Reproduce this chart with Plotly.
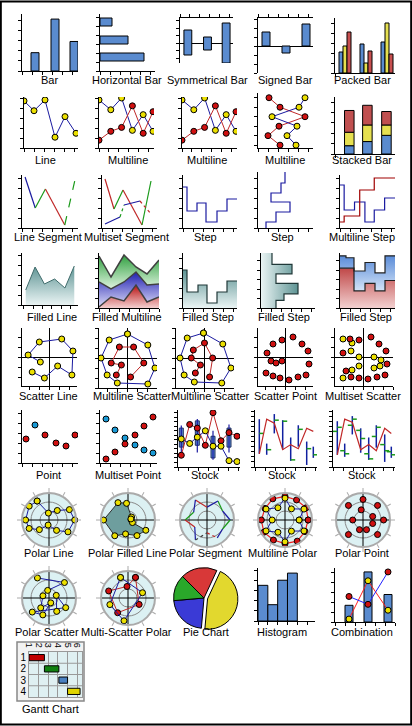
import plotly.graph_objects as go

W, H = 412, 726
FONT = "Liberation Sans"
BLUE_BAR = "#5a8bcf"
YEL = "#ece000"
RED = "#d01010"
LBLUE = "#1a1aa0"
LRED = "#c02828"
GREEN = "#1a9a1a"
TEAL = [[0, "#eaf4f4"], [1, "#5e9494"]]

# ---------------- data ----------------
bar_x = [1.3, 3.3, 5.2]
bar_y = [1.8, 5.1, 2.9]
hbar_y = [4.9, 3.1, 1.4]
hbar_len = [1.2, 2.8, 4.4]
sym_x = [0.8, 2.8, 4.7]
sym_lo = [-1.2, -0.7, -2.0]
sym_hi = [1.3, 0.6, 2.0]
signed_x = [0.8, 2.8, 4.8]
signed_y = [1.4, -0.7, 2.2]
packed_x = [0.6, 2.7, 4.8]
packed_blue = [2.1, 2.9, 3.1]
packed_yel = [2.7, 1.0, 5.0]
packed_red = [4.1, 2.2, 1.9]

line_x = [0, 1.0, 2.1, 3.1, 4.1, 5.2]
line_y = [4.8, 3.8, 4.9, 1.1, 3.2, 1.5]
ml_x = [0, 1.2, 2.3, 3.4, 4.5, 5.5]
ml_yel = [4.9, 3.9, 5.1, 1.8, 3.4, 1.7]
ml_red = [0.8, 1.7, 2.1, 4.3, 1.5, 3.7]
mv_y = [5, 4, 3, 2, 1, 0]
mv_red = [1.1, 2.2, 4.7, 2.1, 1.0, 2.2]
mv_yel = [4.7, 4.1, 1.4, 3.9, 2.9, 3.8]
stk_x = [1.5, 3.4, 5.4]
stk_blue = [0.8, 1.2, 1.8]
stk_yel = [1.3, 1.6, 1.0]
stk_red = [2.1, 1.9, 1.3]

seg_x = [0.3, 1.3, 2.3, 4.2, 5.2]
seg_y = [5.1, 2.0, 3.9, 0.3, 4.8]
seg_col = [LBLUE, GREEN, LRED, GREEN]
seg_dash = ["solid", "solid", "solid", "dash"]
mseg_ax = [0.3, 1.2, 2.1, 4.0, 4.9]
mseg_ay = [4.9, 1.9, 3.8, 0.3, 4.7]
mseg_acol = [LRED, GREEN, LRED, GREEN]
mseg_adash = ["solid", "solid", "solid", "solid"]
mseg_bx = [0.3, 1.8, 2.2, 3.8, 4.9]
mseg_by = [0.4, 1.1, 2.3, 2.7, 1.4]
mseg_bcol = [LBLUE, GREEN, LBLUE, LRED]
mseg_bdash = ["solid", "dot", "solid", "dot"]
step_x = [0, 0.4, 1.4, 2.3, 3.4, 4.4, 5.4]
step_y = [4.1, 1.7, 2.5, 0.6, 1.7, 2.9, 2.9]
vstep_x = [0.8, 1.8, 3.2, 1.3, 2.3, 2.7, 2.7]
vstep_y = [0, 0.6, 1.6, 2.6, 3.5, 4.5, 5.6]
mstep_bx = [0, 0.4, 1.4, 2.4, 3.3, 4.3, 5.3]
mstep_by = [4.3, 1.8, 2.6, 0.6, 1.8, 3.0, 3.0]
mstep_rx = [0, 0.4, 1.9, 3.3, 5.3]
mstep_ry = [0.6, 1.2, 3.8, 5.0, 5.0]

fl_x = [0.4, 1.4, 2.4, 3.5, 4.6, 5.6]
fl_y = [1.5, 3.8, 2.1, 2.6, 1.7, 3.9]
fm_x = [0, 1.2, 2.5, 3.7, 4.8, 6.0]
fm_red = [0.1, 1.1, 0.7, 2.3, 0.6, 1.1]
fm_blue = [2.6, 1.9, 2.6, 3.6, 2.3, 2.4]
fm_green = [5.2, 3.1, 5.3, 4.1, 3.4, 4.8]
fs_x = [0, 0.4, 1.5, 2.4, 3.4, 4.4, 5.4]
fs_y = [3.8, 1.6, 2.3, 0.5, 1.6, 2.7, 2.7]
fv_x = [1.1, 3.1, 1.5, 3.7, 2.3, 1.5, 1.5]
fv_y = [5.8, 4.6, 3.6, 2.6, 1.5, 0.8, 0]
fs2_rx = [0, 1.4, 2.5, 3.5, 4.5, 5.5]
fs2_ry = [4.2, 1.8, 2.6, 1.8, 2.9, 2.9]
fs2_bx = [0, 0.6, 1.4, 2.5, 3.5, 4.5, 5.5]
fs2_by = [5.5, 5.3, 3.9, 4.8, 3.7, 5.5, 5.5]

sl_x = [-0.9, -2.1, -1.0, 1.2, 2.3, 2.2, 0.8, -0.5, -1.7]
sl_y = [-0.5, 0.2, 1.5, 1.8, 0.6, -1.8, -0.9, -2.1, -1.5]
msa_bx = [0, 2.0, 2.7, 2.0, -1.0, -2.0, -2.6, -1.8, 0]
msa_by = [2.4, 1.3, -1.0, -2.6, -2.5, -1.7, 0, 1.8, 2.4]
msa_rx = [0.3, 1.6, 0.6, -0.8, -1.6, -0.6, -1.1]
msa_ry = [-1.9, -0.5, 1.1, 1.1, -0.5, -0.7, -1.7]
msb_bx = [-0.1, 1.8, 2.6, 1.7, -1.0, -2.0, -2.4, -1.7, -0.1]
msb_by = [2.5, 1.4, -1.0, -2.5, -2.4, -1.7, 0, 2.0, 2.5]
msb_rx = [0.5, 0.8, 0, -1.1, -1.3, -0.4, -0.9]
msb_ry = [-1.9, 0, 1.5, 0.8, 0, -0.7, -1.5]
sp_x = [-0.3, 0.8, 1.7, 2.3, 2.4, 2.1, 1.3, 0.4, -0.5, -1.2, -1.9, -1.8, -1.2, -1.4, -0.9, -0.3]
sp_y = [1.7, 2.0, 1.3, 0.6, -0.7, -1.8, -2.0, -2.3, -2.1, -1.9, -1.6, 0.4, 1.3, -0.4, -0.6, -0.4]
ms_yx = [-2.0, -1.1, -1.2, -0.4, 1.1, 1.8, 1.7, 1.1, -0.4, -1.1, -2.0]
ms_yy = [1.8, 1.4, 0.6, 0, 0, -0.3, -0.9, -1.1, -0.9, -1.3, -2.1]
ms_rx = [-1.3, -0.4, 0.8, 1.6, 2.3, 2.4, 2.2, 1.4, 0.5, -0.4, -1.2, -1.7, -2.0]
ms_ry = [1.8, 1.7, 2.0, 1.3, 0.6, -0.7, -1.8, -2.0, -2.2, -2.1, -2.0, -1.4, 0.4]

pt_x = [0.4, 1.3, 2.3, 3.4, 4.4, 5.3]
pt_y = [2.4, 3.8, 2.8, 2.0, 1.7, 2.8]
pt_col = [RED, "#1a9ad6", RED, RED, RED, RED]
mp_x = [0.6, 1.5, 2.5, 3.5, 4.4, 5.3]
mp_blue = [4.4, 3.3, 2.5, 1.8, 1.3, 1.0]
mp_red = [0.4, 1.1, 1.9, 2.8, 3.7, 4.6]
sk_x = [0.33, 1.17, 1.93, 2.73, 3.5, 4.3, 5.1, 5.9]
sk_red = [1.3, 4.7, 4.3, 2.4, 6.0, 2.9, 3.8, 3.4]
sk_blue = [3.1, 2.6, 3.3, 4.0, 2.3, 2.3, 0.7, 0.6]
box_x = [0.33, 1.93, 3.5, 5.1]
box_lo = [2.2, 2.4, 1.0, 2.2]
box_hi = [4.3, 5.1, 3.4, 4.3]
box_min = [1.3, 1.6, 0.8, 1.6]
box_max = [4.6, 5.3, 4.0, 4.7]
oh_x = [0.43, 1.17, 1.93, 2.77, 3.57, 4.33, 5.17, 5.83]
oh_hi = [4.7, 2.3, 5.2, 4.6, 2.9, 4.1, 2.5, 2.0]
oh_lo = [1.3, 1.2, 3.3, 1.7, 0.6, 2.0, 0.2, 0.9]
oh_close = [3.3, 1.7, 4.6, 4.5, 0.7, 3.7, 1.8, 1.2]
oh_line = [1.3, 4.7, 4.3, 1.7, 2.2, 1.8, 3.8, 3.5]
oh2_hi = [4.5, 2.3, 5.0, 3.8, 2.9, 4.1, 3.2, 2.0]
oh2_lo = [1.2, 1.0, 3.2, 1.4, 0.7, 1.9, 0.5, 0.9]
oh2_open = [3.5, 1.6, 4.1, 3.6, 1.3, 3.0, 2.2, 1.5]
oh2_close = [3.9, 1.3, 4.7, 2.8, 0.8, 3.9, 1.6, 1.2]
oh2_line = [1.2, 4.7, 4.4, 1.7, 2.2, 1.6, 3.8, 3.3]

ang12 = [0, 30, 60, 90, 120, 150, 180, 210, 240, 270, 300, 330, 360]
pl_r = [0.87, 0.94, 0.91, 0.84, 0.53, 0.2, 0.5, 0.87, 1.0, 0.89, 0.49, 0.27, 0.87]
pl_t = [122, 145, 180, 203, 225, 260, 306, 328, 360, 387, 409, 455, 482]
pf_r = [0.12, 0.18, 0.65, 0.78, 0.95, 0.8, 0.55, 0.7, 0.8, 0.2, 0.12]
pf_t = [5, 40, 95, 120, 180, 230, 260, 300, 330, 330, 20]
ps_r = [0.9, 0.7, 0.85, 0.5, 0.9, 0.6, 0.85, 0.55, 0.9, 0.5, 0.8, 0.7, 0.9]
mpol_red = [0.9, 0.95, 0.9, 0.92, 0.95, 0.9, 0.92, 0.95, 0.9, 0.92, 0.95, 0.9, 0.9]
mpol_blue = [0.55, 0.85, 0.5, 0.85, 0.55, 0.85, 0.5, 0.85, 0.55, 0.85, 0.5, 0.85, 0.55]
pp_r = [0.8, 0.4, 0.8, 0.4, 0.8, 0.4, 0.8, 0.4, 0.8, 0.4, 0.8, 0.4]
pp_t = [0, 20, 45, 100, 90, 180, 135, 250, 225, 290, 315, 340]
psc_r = [0.9, 0.85, 0.3, 0.25, 0.5, 0.2, 0.7, 0.85, 0.75, 0.3, 0.6]
psc_t = [120, 45, 100, 160, 230, 290, 250, 220, 330, 20, 300]
msp_r1 = [0.85, 0.45, 0.8, 0.7, 0.5, 0.85]
msp_t1 = [70, 95, 160, 235, 330, 70]
msp_r2 = [0.85, 0.6, 0.9, 0.75, 0.85]
msp_t2 = [110, 20, 260, 200, 110]

pie_vals = [70, 160, 80, 50]
pie_cols = ["#d83838", "#e2d82e", "#3a3ad6", "#2aa82a"]
pie_pull = [0, 0.12, 0, 0]
hist_x = [0.5, 1.5, 2.5, 3.5]
hist_y = [3.5, 1.6, 4.0, 4.7]
comb_x = [1.4, 3.3, 5.3]
comb_bar = [1.7, 5.1, 2.8]
comb_yel = [0.3, 4.2, 1.2]
comb_red = [2.6, 1.8, 5.1]
gantt_task = [1, 2, 3, 4]
gantt_start = [1.0, 2.6, 4.1, 5.0]
gantt_end = [2.6, 4.1, 5.0, 6.3]
gantt_cols = ["#c00000", "#108010", "#4a80c0", "#e0d400"]

titles = [
    ["Bar", "Horizontal Bar", "Symmetrical Bar", "Signed Bar", "Packed Bar"],
    ["Line", "Multiline", "Multiline", "Multiline", "Stacked Bar"],
    ["Line Segment", "Multiset Segment", "Step", "Step", "Multiline Step"],
    ["Filled Line", "Filled Multiline", "Filled Step", "Filled Step", "Filled Step"],
    ["Scatter Line", "Multiline Scatter", "Multiline Scatter", "Scatter Point", "Multiset Scatter"],
    ["Point", "Multiset Point", "Stock", "Stock", "Stock"],
    ["Polar Line", "Polar Filled Line", "Polar Segment", "Multiline Polar", "Polar Point"],
    ["Polar Scatter", "Multi-Scatter Polar", "Pie Chart", "Histogram", "Combination"],
]
title_cx = [[49, 127, 207, 285, 362], [45, 128, 207, 285, 362], [48, 127, 205, 282, 362],
            [52, 127, 208, 284, 366], [48, 132, 210, 285, 363], [48, 128, 205, 282, 362],
            [49, 128, 205, 282, 362], [47, 127, 206, 282, 362]]
title_y = [80, 160, 237, 317, 396, 475, 553, 632]

# ---------------- helpers ----------------
fig = go.Figure()
layout = {}
cnt = [0, 0]
AX = dict(showline=True, linecolor="black", linewidth=1, ticks="outside", ticklen=3,
          tickcolor="black", showticklabels=False, showgrid=False, zeroline=False,
          fixedrange=True, tick0=0)


def cart(x0, y0, x1, y1, xr, yr, xd=1, yd=1, xo=None, yo=None):
    cnt[0] += 1
    s = "" if cnt[0] == 1 else str(cnt[0])
    xa = dict(AX, domain=[x0 / W, x1 / W], range=xr, anchor="y" + s, dtick=xd)
    ya = dict(AX, domain=[1 - y1 / H, 1 - y0 / H], range=yr, anchor="x" + s, dtick=yd)
    xa.update(xo or {})
    ya.update(yo or {})
    layout["xaxis" + s] = xa
    layout["yaxis" + s] = ya
    return dict(xaxis="x" + s, yaxis="y" + s)


def polar(cx, cy, r=27):
    cnt[1] += 1
    name = "polar" if cnt[1] == 1 else "polar%d" % cnt[1]
    layout[name] = dict(
        domain=dict(x=[(cx - r) / W, (cx + r) / W], y=[1 - (cy + r) / H, 1 - (cy - r) / H]),
        bgcolor="#dcf1f3",
        angularaxis=dict(showticklabels=False, ticks="outside", ticklen=4, tickcolor="#aaa",
                         tickwidth=1, dtick=30, showgrid=False, linecolor="#aaa", linewidth=2),
        radialaxis=dict(range=[0, 1.05], showticklabels=False, ticks="", showline=False,
                        gridcolor="#888", tickvals=[0.35, 0.7]))
    sp = dict(subplot=name)
    fig.add_trace(go.Scatterpolar(r=[1.05, 0, 1.05], theta=[0, 0, 180], mode="lines",
                                  line=dict(color="black", width=1), **sp))
    fig.add_trace(go.Scatterpolar(r=[1.05, 0, 1.05], theta=[90, 90, 270], mode="lines",
                                  line=dict(color="black", width=1), **sp))
    return sp


def mk(c):
    return dict(color=c, size=6, line=dict(color="black", width=1))


BL = dict(color="black", width=1)

# ---------------- row 1 ----------------
a = cart(22, 14, 78, 71, [0, 5.6], [0, 5.6])
fig.add_trace(go.Bar(x=bar_x, y=bar_y, width=0.8, marker=dict(color=BLUE_BAR, line=BL), **a))
a = cart(100, 14, 155, 71, [0, 5.5], [0, 5.7], xo=dict(dtick=1), yo=dict(dtick=0.9))
fig.add_trace(go.Bar(y=hbar_y, x=hbar_len, orientation="h", width=0.8,
                     marker=dict(color=BLUE_BAR, line=BL), **a))
a = cart(180, 18, 233, 63, [0, 5.4], [-2.0, 2.5], yd=0.75,
         xo=dict(side="top"), yo=dict(zeroline=True, zerolinecolor="black", zerolinewidth=1))
fig.add_trace(go.Bar(x=sym_x, y=[h - l for h, l in zip(sym_hi, sym_lo)], base=sym_lo, width=0.8,
                     marker=dict(color=BLUE_BAR, line=BL), **a))
a = cart(258, 18, 313, 73, [0, 5.5], [-2.7, 2.8], yd=0.9,
         xo=dict(side="top"), yo=dict(zeroline=True, zerolinecolor="black", zerolinewidth=1))
fig.add_trace(go.Bar(x=signed_x, y=signed_y, width=0.8, marker=dict(color=BLUE_BAR, line=BL), **a))
a = cart(335, 18, 395, 73, [0, 6], [0, 5.5], xd=10)
for dx, vals, col in [(0, packed_blue, BLUE_BAR), (0.4, packed_yel, "#e6e050"), (0.8, packed_red, "#c85050")]:
    fig.add_trace(go.Bar(x=[v + dx for v in packed_x], y=vals, width=0.4,
                         marker=dict(color=col, line=BL), **a))

# ---------------- row 2 ----------------
a = cart(24, 97, 78, 148, [0, 5.4], [0, 5.2])
fig.add_trace(go.Scatter(x=line_x, y=line_y, mode="lines+markers", line=dict(color=LBLUE, width=1),
                         marker=mk(YEL), **a))
for x0 in (99, 182):
    a = cart(x0, 97, x0 + 55, 148, [0, 5.6], [0, 5.2])
    fig.add_trace(go.Scatter(x=ml_x, y=ml_yel, mode="lines+markers", line=dict(color=LBLUE, width=1),
                             marker=mk(YEL), **a))
    fig.add_trace(go.Scatter(x=ml_x, y=ml_red, mode="lines+markers", line=dict(color=LRED, width=1),
                             marker=mk(RED), **a))
a = cart(258, 93, 313, 148, [0, 5.5], [-0.3, 5.5])
fig.add_trace(go.Scatter(x=mv_red, y=mv_y, mode="lines+markers", line=dict(color=LRED, width=1),
                         marker=mk(RED), **a))
fig.add_trace(go.Scatter(x=mv_yel, y=mv_y, mode="lines+markers", line=dict(color=LBLUE, width=1),
                         marker=mk(YEL), **a))
a = cart(335, 97, 395, 154, [0, 6.3], [0, 5.5], xd=10)
base = [0, 0, 0]
for vals, col in [(stk_blue, BLUE_BAR), (stk_yel, "#e6e050"), (stk_red, "#c05050")]:
    fig.add_trace(go.Bar(x=stk_x, y=vals, base=list(base), width=1.0,
                         marker=dict(color=col, line=BL), **a))
    base = [b + v for b, v in zip(base, vals)]

# ---------------- row 3 ----------------
a = cart(22, 175, 78, 228, [0, 5.5], [0, 5.3])
for i in range(4):
    fig.add_trace(go.Scatter(x=seg_x[i:i + 2], y=seg_y[i:i + 2], mode="lines",
                             line=dict(color=seg_col[i], width=1.2, dash=seg_dash[i]), **a))
a = cart(102, 175, 157, 228, [0, 5.5], [0, 5.3])
for i in range(4):
    fig.add_trace(go.Scatter(x=mseg_ax[i:i + 2], y=mseg_ay[i:i + 2], mode="lines",
                             line=dict(color=mseg_acol[i], width=1.2, dash=mseg_adash[i]), **a))
    fig.add_trace(go.Scatter(x=mseg_bx[i:i + 2], y=mseg_by[i:i + 2], mode="lines",
                             line=dict(color=mseg_bcol[i], width=1.2, dash=mseg_bdash[i]), **a))
a = cart(183, 175, 237, 228, [0, 5.4], [0, 5.3])
fig.add_trace(go.Scatter(x=step_x, y=step_y, mode="lines", line=dict(color=LBLUE, width=1.2, shape="hv"), **a))
a = cart(258, 172, 313, 228, [0, 5.5], [0, 5.6])
fig.add_trace(go.Scatter(x=vstep_x, y=vstep_y, mode="lines", line=dict(color=LBLUE, width=1.2, shape="vh"), **a))
a = cart(340, 175, 395, 228, [0, 5.3], [0, 5.3])
fig.add_trace(go.Scatter(x=mstep_bx, y=mstep_by, mode="lines", line=dict(color=LBLUE, width=1.2, shape="hv"), **a))
fig.add_trace(go.Scatter(x=mstep_rx, y=mstep_ry, mode="lines", line=dict(color="#a00000", width=1.2, shape="hv"), **a))

# ---------------- row 4 ----------------
a = cart(22, 253, 78, 305, [0, 6], [0, 5.2], xo=dict(tick0=0.2))
fig.add_trace(go.Scatter(x=fl_x, y=fl_y, mode="lines", fill="tozeroy", line=dict(color="#406c6c", width=1),
                         fillgradient=dict(type="vertical", colorscale=TEAL), **a))
a = cart(99, 253, 159, 308, [0, 6], [0, 5.5])
for vals, cs, lc, fl in [(fm_red, [[0, "#f4d0d0"], [1, "#b81010"]], "#404040", "tozeroy"),
                         (fm_blue, [[0, "#dcdcf8"], [1, "#2020b0"]], "#404040", "tonexty"),
                         (fm_green, [[0, "#e0f4e0"], [1, "#30a040"]], "#404040", "tonexty")]:
    fig.add_trace(go.Scatter(x=fm_x, y=vals, mode="lines", fill=fl, line=dict(color=lc, width=1.5),
                             fillgradient=dict(type="vertical", colorscale=cs), **a))
a = cart(183, 253, 237, 308, [0, 5.4], [0, 5.5])
fig.add_trace(go.Scatter(x=fs_x, y=fs_y, mode="lines", fill="tozeroy",
                         line=dict(color="#203838", width=1.2, shape="hv"),
                         fillgradient=dict(type="vertical", colorscale=TEAL), **a))
a = cart(261, 253, 315, 308, [0, 5.4], [0, 5.8])
fig.add_trace(go.Scatter(x=fv_x, y=fv_y, mode="lines", fill="tozerox",
                         line=dict(color="#203838", width=1.2, shape="vh"),
                         fillgradient=dict(type="horizontal", colorscale=TEAL), **a))
a = cart(340, 253, 395, 308, [0, 5.5], [0, 5.8])
fig.add_trace(go.Scatter(x=fs2_rx, y=fs2_ry, mode="lines", fill="tozeroy",
                         line=dict(color="#202020", width=1.2, shape="hv"),
                         fillgradient=dict(type="vertical", colorscale=[[0, "#f2d0d0"], [1, "#c04848"]]), **a))
fig.add_trace(go.Scatter(x=fs2_bx, y=fs2_by, mode="lines", fill="tonexty",
                         line=dict(color="#202020", width=1.2, shape="hv"),
                         fillgradient=dict(type="vertical", colorscale=[[0, "#d4e4f8"], [1, "#5a8cd8"]]), **a))

# ---------------- row 5 ----------------
CROSS = dict(zeroline=True, zerolinecolor="black", zerolinewidth=1)
a = cart(22, 328, 77, 386, [-2.7, 2.7], [-2.9, 2.9], xo=CROSS, yo=CROSS)
fig.add_trace(go.Scatter(x=sl_x, y=sl_y, mode="lines+markers", line=dict(color=LBLUE, width=1),
                         marker=mk(YEL), **a))
for x0, bx, by, rx, ry in [(99, msa_bx, msa_by, msa_rx, msa_ry), (176, msb_bx, msb_by, msb_rx, msb_ry)]:
    a = cart(x0, 328, x0 + 58, 388, [-2.8, 2.9], [-3.0, 3.0], xo=CROSS, yo=CROSS)
    fig.add_trace(go.Scatter(x=bx, y=by, mode="lines+markers", line=dict(color=LBLUE, width=1),
                             marker=mk(YEL), **a))
    fig.add_trace(go.Scatter(x=rx, y=ry, mode="lines+markers", line=dict(color=LRED, width=1),
                             marker=mk(RED), **a))
a = cart(258, 328, 313, 386, [-2.7, 2.8], [-2.9, 2.9], xo=CROSS, yo=CROSS)
fig.add_trace(go.Scatter(x=sp_x, y=sp_y, mode="markers", marker=mk(RED), **a))
a = cart(335, 328, 393, 386, [-2.8, 3.0], [-2.9, 2.9], xo=CROSS, yo=CROSS)
fig.add_trace(go.Scatter(x=ms_yx, y=ms_yy, mode="markers", marker=mk(YEL), **a))
fig.add_trace(go.Scatter(x=ms_rx, y=ms_ry, mode="markers", marker=mk(RED), **a))

# ---------------- row 6 ----------------
a = cart(22, 410, 78, 463, [0, 5.6], [0, 5.3])
fig.add_trace(go.Scatter(x=pt_x, y=pt_y, mode="markers", marker=dict(color=pt_col, size=6, line=BL), **a))
a = cart(100, 410, 157, 463, [0, 5.7], [0, 5.3])
fig.add_trace(go.Scatter(x=mp_x, y=mp_blue, mode="markers", marker=mk("#1a9ad6"), **a))
fig.add_trace(go.Scatter(x=mp_x, y=mp_red, mode="markers", marker=mk(RED), **a))
a = cart(178, 410, 240, 467, [0, 6.2], [0, 6.3], yd=0.5)
wx, wy = [], []
for x, lo, hi in zip(box_x, box_min, box_max):
    wx += [x, x, None]
    wy += [lo, hi, None]
fig.add_trace(go.Scatter(x=wx, y=wy, mode="lines", line=dict(color=LBLUE, width=1.2), **a))
fig.add_trace(go.Bar(x=box_x, y=[h - l for h, l in zip(box_hi, box_lo)], base=box_lo, width=0.4,
                     marker=dict(color=BLUE_BAR, line=dict(color="#203060", width=1)), **a))
fig.add_trace(go.Scatter(x=sk_x, y=sk_red, mode="lines+markers", line=dict(color=LRED, width=1),
                         marker=mk(RED), **a))
fig.add_trace(go.Scatter(x=sk_x, y=sk_blue, mode="lines+markers", line=dict(color=LBLUE, width=1),
                         marker=mk(YEL), **a))
for x0, hi_, lo_, op_, cl_, ln_ in [(255, oh_hi, oh_lo, None, oh_close, oh_line),
                                    (333, oh2_hi, oh2_lo, oh2_open, oh2_close, oh2_line)]:
    a = cart(x0, 410, x0 + 62, 467, [0, 6.2], [0, 5.6], yd=0.5)
    vx, vy, gx, gy = [], [], [], []
    for i, x in enumerate(oh_x):
        vx += [x, x, None]
        vy += [lo_[i], hi_[i], None]
        gx += [x, x + 0.45, None]
        gy += [cl_[i], cl_[i], None]
        if op_ is not None:
            gx += [x - 0.45, x, None]
            gy += [op_[i], op_[i], None]
    fig.add_trace(go.Scatter(x=vx, y=vy, mode="lines", line=dict(color="#1020a0", width=1.5), **a))
    fig.add_trace(go.Scatter(x=gx, y=gy, mode="lines", line=dict(color=GREEN, width=1.5), **a))
    fig.add_trace(go.Scatter(x=oh_x, y=ln_, mode="lines", line=dict(color=LRED, width=1.2), **a))

# ---------------- row 7 polar ----------------
sp = polar(49, 520)
fig.add_trace(go.Scatterpolar(r=pl_r, theta=pl_t, mode="lines+markers", line=dict(color=LBLUE, width=1),
                              marker=mk(YEL), **sp))
sp = polar(128, 520)
fig.add_trace(go.Scatterpolar(r=pf_r, theta=pf_t, mode="lines+markers", fill="toself",
                              fillcolor="#6e9e9e", line=dict(color="#303030", width=1),
                              marker=mk(YEL), **sp))
sp = polar(207, 520)
pcols = [LBLUE, GREEN, LBLUE, LRED, LBLUE, GREEN, LRED, LBLUE, "#404040", LRED, LBLUE, GREEN]
for i in range(12):
    fig.add_trace(go.Scatterpolar(r=ps_r[i:i + 2], theta=ang12[i:i + 2], mode="lines",
                                  line=dict(color=pcols[i], width=1.2, dash="dot" if i in (8, 9) else "solid"),
                                  **sp))
sp = polar(285, 520)
fig.add_trace(go.Scatterpolar(r=mpol_red, theta=ang12, mode="lines+markers", line=dict(color="#f02020", width=1.2),
                              marker=mk(RED), **sp))
fig.add_trace(go.Scatterpolar(r=mpol_blue, theta=ang12, mode="lines+markers", line=dict(color=LBLUE, width=1),
                              marker=mk(YEL), **sp))
sp = polar(363, 520)
fig.add_trace(go.Scatterpolar(r=pp_r, theta=pp_t, mode="markers", marker=mk(RED), **sp))

# ---------------- row 8 ----------------
sp = polar(49, 598)
fig.add_trace(go.Scatterpolar(r=psc_r, theta=psc_t, mode="lines+markers", line=dict(color=LBLUE, width=1),
                              marker=mk(YEL), **sp))
sp = polar(128, 598)
fig.add_trace(go.Scatterpolar(r=msp_r1, theta=msp_t1, mode="lines+markers", line=dict(color=LRED, width=1),
                              marker=mk(RED), **sp))
fig.add_trace(go.Scatterpolar(r=msp_r2, theta=msp_t2, mode="lines+markers", line=dict(color=LBLUE, width=1),
                              marker=mk(YEL), **sp))
fig.add_trace(go.Pie(values=pie_vals, marker=dict(colors=pie_cols, line=dict(color="black", width=1)),
                     pull=pie_pull, sort=False, direction="clockwise", rotation=-45, textinfo="none",
                     hoverinfo="skip", showlegend=False,
                     domain=dict(x=[170 / W, 238 / W], y=[1 - 632 / H, 1 - 564 / H])))
a = cart(258, 568, 315, 621, [0, 5.8], [0, 5.2])
fig.add_trace(go.Bar(x=hist_x, y=hist_y, width=1.0, marker=dict(color=BLUE_BAR, line=BL), **a))
a = cart(335, 568, 395, 622, [0, 6], [0, 5.5])
fig.add_trace(go.Bar(x=comb_x, y=comb_bar, width=0.8, marker=dict(color=BLUE_BAR, line=BL), **a))
fig.add_trace(go.Scatter(x=comb_x, y=comb_yel, mode="lines+markers", line=dict(color="#ff2020", width=1),
                         marker=mk(YEL), **a))
fig.add_trace(go.Scatter(x=comb_x, y=comb_red, mode="lines+markers", line=dict(color="#2020ff", width=1),
                         marker=mk(RED), **a))

# ---------------- gantt ----------------
a = cart(29, 652, 82, 697, [1, 6.5], [4.5, 0.5],
         xo=dict(side="top", showticklabels=True, tickvals=[1, 2, 3, 4, 5, 6], tickangle=90, ticks="",
                 showgrid=True, gridcolor="#999", linecolor="#999", mirror=True,
                 tickfont=dict(size=9, family=FONT, color="black")),
         yo=dict(showticklabels=True, tickvals=[1, 2, 3, 4], ticks="", linecolor="#999", mirror=True,
                 tickfont=dict(size=10, family=FONT, color="black")))
fig.add_trace(go.Bar(y=gantt_task, x=[e - s for s, e in zip(gantt_start, gantt_end)], base=gantt_start,
                     orientation="h", width=0.55, marker=dict(color=gantt_cols, line=BL), **a))

shapes = [
    dict(type="rect", xref="paper", yref="paper", x0=0.002, x1=0.998, y0=0.002, y1=0.998,
         line=dict(color="black", width=2)),
    dict(type="rect", xref="paper", yref="paper", x0=17 / W, x1=84 / W, y0=1 - 701 / H, y1=1 - 642 / H,
         line=dict(color="#888", width=1.5), fillcolor="#f2f2f2", layer="below"),
    dict(type="rect", xref="paper", yref="paper", x0=29 / W, x1=82 / W, y0=1 - 697 / H, y1=1 - 652 / H,
         line=dict(width=0), fillcolor="#dff0f2", layer="below"),
]
for yy in [1.5, 2.5, 3.5]:
    shapes.append(dict(type="line", xref=a["xaxis"], yref=a["yaxis"], x0=1, x1=6.5, y0=yy, y1=yy,
                       line=dict(color="#999", width=1), layer="below"))

ann = []
for r, row in enumerate(titles):
    for c, t in enumerate(row):
        ann.append(dict(text=t, x=title_cx[r][c] / W, y=1 - title_y[r] / H, xref="paper", yref="paper",
                        xanchor="center", yanchor="middle", showarrow=False,
                        font=dict(family=FONT, size=11, color="black")))
ann.append(dict(text="Gantt Chart", x=50 / W, y=1 - 709 / H, xref="paper", yref="paper",
                xanchor="center", yanchor="middle", showarrow=False,
                font=dict(family=FONT, size=11, color="black")))

layout.update(width=W, height=H, margin=dict(l=0, r=0, t=0, b=0, autoexpand=False), showlegend=False,
              paper_bgcolor="white", plot_bgcolor="rgba(0,0,0,0)", barmode="overlay",
              shapes=shapes, annotations=ann, font=dict(family=FONT))
fig.update_layout(**layout)
fig.update_traces(hoverinfo="skip", selector=dict(type="scatter"))
fig.write_html("out.html", config=dict(displayModeBar=False),
               post_script="document.body.style.margin='0';document.body.style.padding='0';")
